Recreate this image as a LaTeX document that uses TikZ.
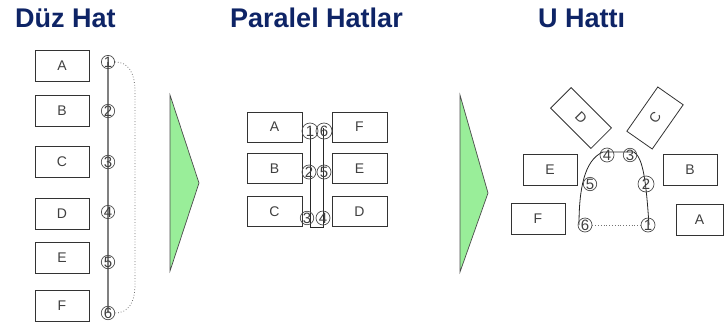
\documentclass[tikz,border=0pt]{standalone}
\usepackage{fontspec}
\setmainfont{Liberation Sans}
\definecolor{navy}{RGB}{14,36,102}
\definecolor{arrgreen}{RGB}{153,238,153}
\tikzset{
  titletext/.style={font=\fontsize{27}{30}\selectfont\bfseries, text=navy, anchor=base west, inner sep=0pt},
  box/.style={draw=black!80, line width=0.8pt, minimum width=54pt, minimum height=31pt, inner sep=0pt, font=\fontsize{14}{15}\selectfont, text=black!75},
  num/.style={circle, draw=black!70, line width=0.7pt, inner sep=0pt, minimum size=13pt, font=\fontsize{15}{16}\selectfont, text=black!75},
  bigarrow/.style={fill=arrgreen, draw=black!70, line width=0.7pt},
  flowline/.style={draw=black!85, line width=0.8pt},
  grayline/.style={draw=black!50, line width=1.4pt},
  dotline/.style={draw=black!55, line width=0.8pt, dotted},
}
\begin{document}
\begin{tikzpicture}[x=1pt, y=-1pt]
\useasboundingbox (0,0) rectangle (725,330);
% titles
\node[titletext] (t1) at (15,27) {Düz Hat};
\node[titletext] (t2) at (230,27) {Paralel Hatlar};
\node[titletext] (t3) at (538,27) {U Hattı};

% ---------- left panel ----------
\node[box] (la) at (62,65.5) {A};
\node[box] (lb) at (62,110.5) {B};
\node[box] (lc) at (62,161.5) {C};
\node[box] (ld) at (62,213.5) {D};
\node[box] (le) at (62,257.5) {E};
\node[box] (lf) at (62,306) {F};
\coordinate (l1c) at (108,62);
\coordinate (l6c) at (108,313);
\draw[grayline] (l1c) -- (l6c);
\node[num] (l1) at (108,62) {1};
\node[num] (l2) at (108,111) {2};
\node[num] (l3) at (108,162) {3};
\node[num] (l4) at (108,212) {4};
\node[num] (l5) at (108,262) {5};
\node[num] (l6) at (108,313) {6};
\draw[dotline] (l1.east) .. controls (128,62) and (135,72) .. (135,92) -- (135,285) .. controls (135,303) and (128,313) .. (l6.east);

% arrow 1
\draw[bigarrow] (170,95) -- (199,183) -- (170,271) -- cycle;

% ---------- middle panel ----------
\node[box, minimum width=55pt, minimum height=30pt] (ma) at (274.5,127) {A};
\node[box, minimum width=55pt, minimum height=30pt] (mb) at (274.5,168.5) {B};
\node[box, minimum width=55pt, minimum height=30pt] (mc) at (274.5,211.5) {C};
\node[box, minimum width=55pt, minimum height=30pt] (mf) at (359.5,127) {F};
\node[box, minimum width=55pt, minimum height=30pt] (me) at (359.5,168.5) {E};
\node[box, minimum width=55pt, minimum height=30pt] (md) at (359.5,211.5) {D};
\coordinate (mtl) at (310,128);
\coordinate (mtr) at (323,128);
\coordinate (mbl) at (310,227);
\coordinate (mbr) at (323,227);
\draw[flowline] (mtl) -- (mbl) -- (mbr) -- (mtr);
\node[num, minimum size=16pt] (m1) at (310,131) {1};
\node[num, minimum size=16pt] (m6) at (324,131) {6};
\node[num, minimum size=14pt] (m2) at (309,172) {2};
\node[num, minimum size=14pt] (m5) at (324,172) {5};
\node[num, minimum size=13pt] (m3) at (307,218) {3};
\node[num, minimum size=14pt] (m4) at (323,218) {4};

% arrow 2
\draw[bigarrow] (460,95) -- (488,193) -- (460,272) -- cycle;

% ---------- right panel ----------
\node[box] (re) at (550,169.5) {E};
\node[box] (rf) at (538,218.5) {F};
\node[box] (rb) at (690,170) {B};
\node[box, minimum width=47pt] (ra) at (699.5,219.5) {A};
\node[box, minimum width=57pt, minimum height=29pt, rotate=-45] (rd) at (581,118) {D};
\node[box, minimum width=54pt, minimum height=31pt, rotate=55] (rc) at (655,118) {C};
\coordinate (ustart) at (579,225);
\coordinate (uend) at (649,225);
\draw[flowline] (ustart) .. controls (579,190) and (584,160) .. (603,152) -- (634,152) .. controls (643,158) and (646,180) .. (uend);
\node[num, minimum size=14pt] (r6) at (585,225) {6};
\node[num, minimum size=14pt] (r1) at (648,225) {1};
\node[num, minimum size=12pt] (r5) at (590,184) {5};
\node[num, minimum size=16pt] (r2) at (646,184) {2};
\node[num, minimum size=14pt] (r4) at (607,155) {4};
\node[num, minimum size=12pt] (r3) at (630,155) {3};
\draw[dotline] (r6.east) -- (r1.west);
\end{tikzpicture}
\end{document}
